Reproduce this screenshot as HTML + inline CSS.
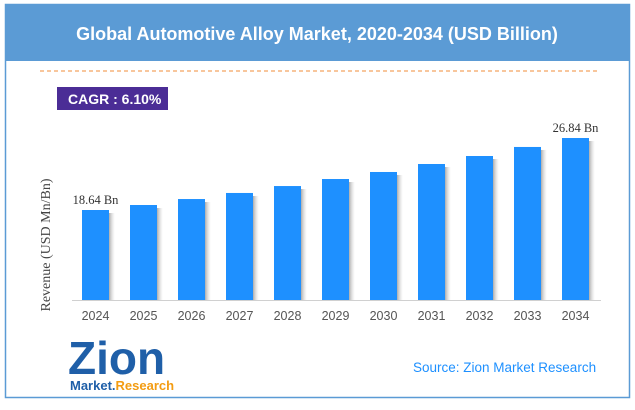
<!DOCTYPE html>
<html><head><meta charset="utf-8"><style>
body{margin:0;width:635px;height:405px;background:#fff;overflow:hidden;font-family:"Liberation Sans",sans-serif}
</style></head><body>
<svg width="635" height="405" xmlns="http://www.w3.org/2000/svg">
<defs><linearGradient id="sh" x1="0" x2="1"><stop offset="0" stop-color="#888" stop-opacity="0.7"/><stop offset="1" stop-color="#ccc" stop-opacity="0"/></linearGradient></defs>
<rect x="5.5" y="4.5" width="624" height="393" fill="#fff" stroke="#5b9bd5" stroke-width="1.5"/>
<rect x="5" y="4" width="625" height="57" fill="#5b9bd5"/>
<text x="317" y="40" text-anchor="middle" fill="#fff" font-size="18" font-weight="bold">Global Automotive Alloy Market, 2020-2034 (USD Billion)</text>
<line x1="40" y1="71" x2="597" y2="71" stroke="#f4a460" stroke-width="1.2" stroke-dasharray="4,3"/>
<rect x="57" y="87" width="111" height="23" fill="#4b2d96"/>
<text x="68" y="104" fill="#fff" font-size="14" font-weight="bold">CAGR :  6.10%</text>
<text transform="translate(50,245) rotate(-90)" text-anchor="middle" fill="#444" font-size="14" font-family="Liberation Serif,serif">Revenue (USD Mn/Bn)</text>
<g id="bars"></g>
<line x1="72" y1="300.5" x2="601" y2="300.5" stroke="#d0d0d0"/>
<g id="ticks"></g>
<text x="68" y="374" font-size="46" font-weight="bold" fill="#1f5fa8" font-family="Liberation Sans,sans-serif">Zion</text>
<text x="70" y="390" font-size="13" font-weight="bold" fill="#1f5fa8">Market.<tspan fill="#f39c12">Research</tspan></text>
<text x="413" y="372" font-size="13.5" fill="#1e90ff">Source: Zion Market Research</text>
</svg>
<script>
const years=["2024","2025","2026","2027","2028","2029","2030","2031","2032","2033","2034"];
const values=[18.64,19.21,19.89,20.58,21.37,22.17,22.97,23.88,24.79,25.82,26.84];
const labels={0:"18.64 Bn",10:"26.84 Bn"};
const NS="http://www.w3.org/2000/svg";
const y0=300,vMin=8.39,k=8.78;
function yScale(v){return y0-(v-vMin)*k;}
function xScale(i){return 82+i*48;}
const bw=27;
const g=document.getElementById('bars'),t=document.getElementById('ticks');
values.forEach((v,i)=>{
 const x=xScale(i),y=yScale(v);
 const s=document.createElementNS(NS,'rect');
 s.setAttribute('x',x+bw);s.setAttribute('y',y+3);s.setAttribute('width',6);s.setAttribute('height',y0-y-3);s.setAttribute('fill','url(#sh)');
 
 
 g.appendChild(s);
 const r=document.createElementNS(NS,'rect');
 r.setAttribute('x',x);r.setAttribute('y',y);r.setAttribute('width',bw);r.setAttribute('height',y0-y);r.setAttribute('fill','#1e90ff');
 
 
 g.appendChild(r);
 const tx=document.createElementNS(NS,'text');
 tx.setAttribute('x',x+bw/2);tx.setAttribute('y',320);tx.setAttribute('text-anchor','middle');tx.setAttribute('font-size','12.5');tx.setAttribute('fill','#555');
 tx.textContent=years[i];
 
 
 t.appendChild(tx);
 if(labels[i]){
  const l=document.createElementNS(NS,'text');
  l.setAttribute('x',x+bw/2);l.setAttribute('y',y-6);l.setAttribute('text-anchor','middle');l.setAttribute('font-size','12.5');l.setAttribute('fill','#333');l.setAttribute('font-family','Liberation Serif,serif');
  l.textContent=labels[i];
  
  
  t.appendChild(l);
 }
});
</script>
</body></html>
